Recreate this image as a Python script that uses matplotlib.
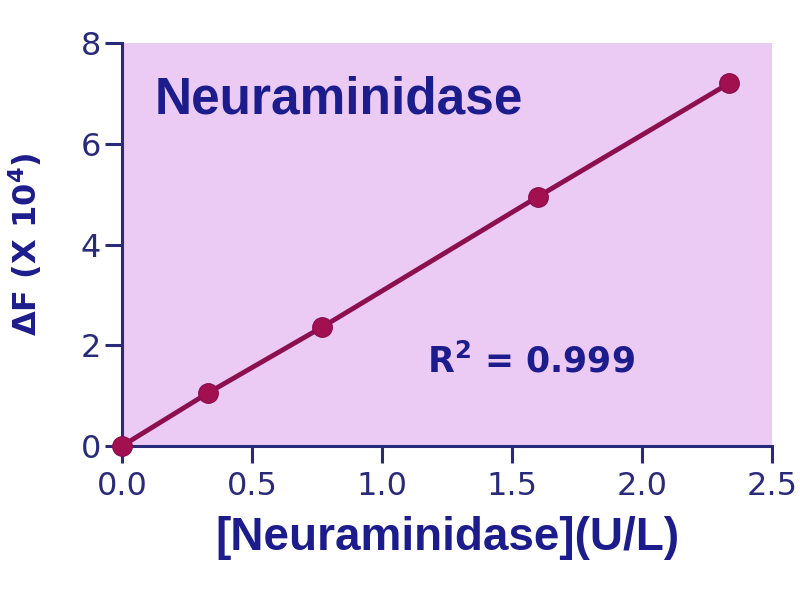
import matplotlib
matplotlib.use("Agg")
import matplotlib.pyplot as plt

plt.rcParams["mathtext.default"] = "bf"

# Data
conc = [0.0, 0.33, 0.77, 1.60, 2.335]
delta_f = [0.0, 1.05, 2.36, 4.95, 7.20]
x_ticks = [0.0, 0.5, 1.0, 1.5, 2.0, 2.5]
x_tick_labels = ["0.0", "0.5", "1.0", "1.5", "2.0", "2.5"]
y_ticks = [0, 2, 4, 6, 8]
y_tick_labels = ["0", "2", "4", "6", "8"]
title_text = "Neuraminidase"
r2_text = r"R$^{2}$ = 0.999"

navy = "#1c1c8c"
axis_col = "#2a2a7a"
line_col = "#8c0f4f"
marker_col = "#a3104f"
bg = "#ebcaf3"

fig = plt.figure(figsize=(8, 6), dpi=100)
ax = fig.add_axes([0.1525, 0.2567, 0.8125, 0.6716])
ax.set_facecolor(bg)

ax.plot(conc, delta_f, color=line_col, lw=3.5, marker="o", ms=14,
        mfc=marker_col, mec=line_col, mew=1, clip_on=False, zorder=5)

ax.set_xlim(0, 2.5)
ax.set_ylim(0, 8)
ax.set_xticks(x_ticks)
ax.set_xticklabels(x_tick_labels)
ax.set_yticks(y_ticks)
ax.set_yticklabels(y_tick_labels)

for s in ["top", "right"]:
    ax.spines[s].set_visible(False)
for s in ["left", "bottom"]:
    ax.spines[s].set_color(axis_col)
    ax.spines[s].set_linewidth(2.2)

ax.tick_params(axis="both", direction="out", length=12, width=2.2,
               color=axis_col, labelcolor=axis_col, labelsize=23)
ax.tick_params(axis="x", pad=6)
ax.tick_params(axis="y", pad=3)
for lab in ax.get_xticklabels() + ax.get_yticklabels():
    lab.set_fontfamily("DejaVu Sans")

ax.text(0.127, 6.6, title_text, fontsize=37, fontweight="bold",
        family="Liberation Sans", color=navy, va="baseline", ha="left")
ax.text(1.173, 1.45, r2_text, fontsize=25, fontweight="bold",
        family="DejaVu Sans", color=navy, va="baseline", ha="left")

xl = ax.set_xlabel("[Neuraminidase](U/L)", fontsize=33, fontweight="bold",
                   family="Liberation Sans", color=navy, labelpad=10)
ax.set_ylabel(r"ΔF (X 10$^{4}$)", fontsize=23, fontweight="bold",
              family="DejaVu Sans", color=navy)
ax.yaxis.set_label_coords(-0.12, 0.5)

fig.savefig("out.png", dpi=100)
